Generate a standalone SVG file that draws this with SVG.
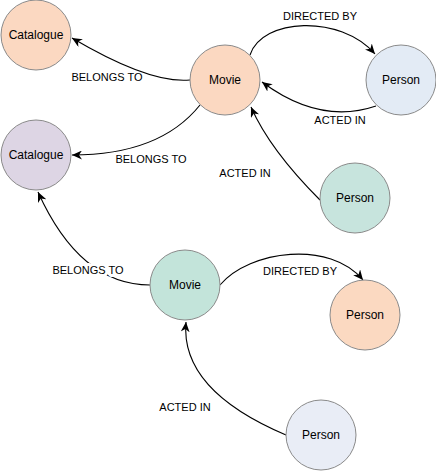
<svg xmlns="http://www.w3.org/2000/svg" width="436" height="471" viewBox="0 0 436 471">
<defs>
<marker id="arr" markerWidth="11" markerHeight="9" refX="10" refY="4.5" orient="auto" markerUnits="userSpaceOnUse">
<path d="M0,0 L10,4.5 L0,9 L3,4.5 z" fill="#000"/>
</marker>
<style>
.node circle{stroke:#8a8a8a;stroke-width:1}
.node text{font-family:"Liberation Sans",Arial,sans-serif;font-size:12px;fill:#000;text-anchor:middle;dominant-baseline:central}
.edge{fill:none;stroke:#000;stroke-width:1.1;marker-end:url(#arr)}
.lbl{font-family:"Liberation Sans",Arial,sans-serif;font-size:11px;fill:#000;text-anchor:middle}
.halo{paint-order:stroke;stroke:#fff;stroke-width:6px;stroke-linejoin:round}
</style>
</defs>
<rect width="436" height="471" fill="#fff"/>
<g id="connectors">
<path class="edge" d="M190,80 Q150,84 72,38"/>
<path class="edge" d="M200,105 Q160,155 72,155"/>
<path class="edge" d="M250,55 C262,18 340,14 375,54"/>
<path class="edge" d="M376,106 Q320,125 262,82"/>
<path class="edge" d="M320,200 Q270,150 251,107"/>
<path class="edge" d="M150,285 Q80,285 38,192"/>
<path class="edge" d="M220,285 C250,250 330,240 363,280"/>
<path class="edge" d="M286,435 Q180,390 186,322"/>
<text class="lbl" x="107" y="81">BELONGS TO</text>
<text class="lbl" x="151" y="163">BELONGS TO</text>
<text class="lbl" x="320" y="20">DIRECTED BY</text>
<text class="lbl" x="340" y="124">ACTED IN</text>
<text class="lbl" x="245" y="177">ACTED IN</text>
<text class="lbl halo" x="88" y="274">BELONGS TO</text>
<text class="lbl" x="300" y="275">DIRECTED BY</text>
<text class="lbl" x="185" y="411">ACTED IN</text>
</g>
<g id="catalogue1" class="node"><circle cx="36" cy="35" r="35" fill="#fbd8c1"/><text x="36" y="35">Catalogue</text></g>
<g id="catalogue2" class="node"><circle cx="36" cy="155" r="35" fill="#ddd5e4"/><text x="36" y="155">Catalogue</text></g>
<g id="movie1" class="node"><circle cx="225" cy="80" r="35" fill="#fbd8c1"/><text x="225" y="80">Movie</text></g>
<g id="person1" class="node"><circle cx="401" cy="80" r="35" fill="#e3ebf5"/><text x="401" y="80">Person</text></g>
<g id="person2" class="node"><circle cx="355" cy="198" r="35" fill="#c7e4dd"/><text x="355" y="198">Person</text></g>
<g id="movie2" class="node"><circle cx="185" cy="285" r="35" fill="#c3e4da"/><text x="185" y="285">Movie</text></g>
<g id="person3" class="node"><circle cx="365" cy="315" r="35" fill="#fbd9c1"/><text x="365" y="315">Person</text></g>
<g id="person4" class="node"><circle cx="321" cy="435" r="35" fill="#e9edf6"/><text x="321" y="435">Person</text></g>
</svg>
